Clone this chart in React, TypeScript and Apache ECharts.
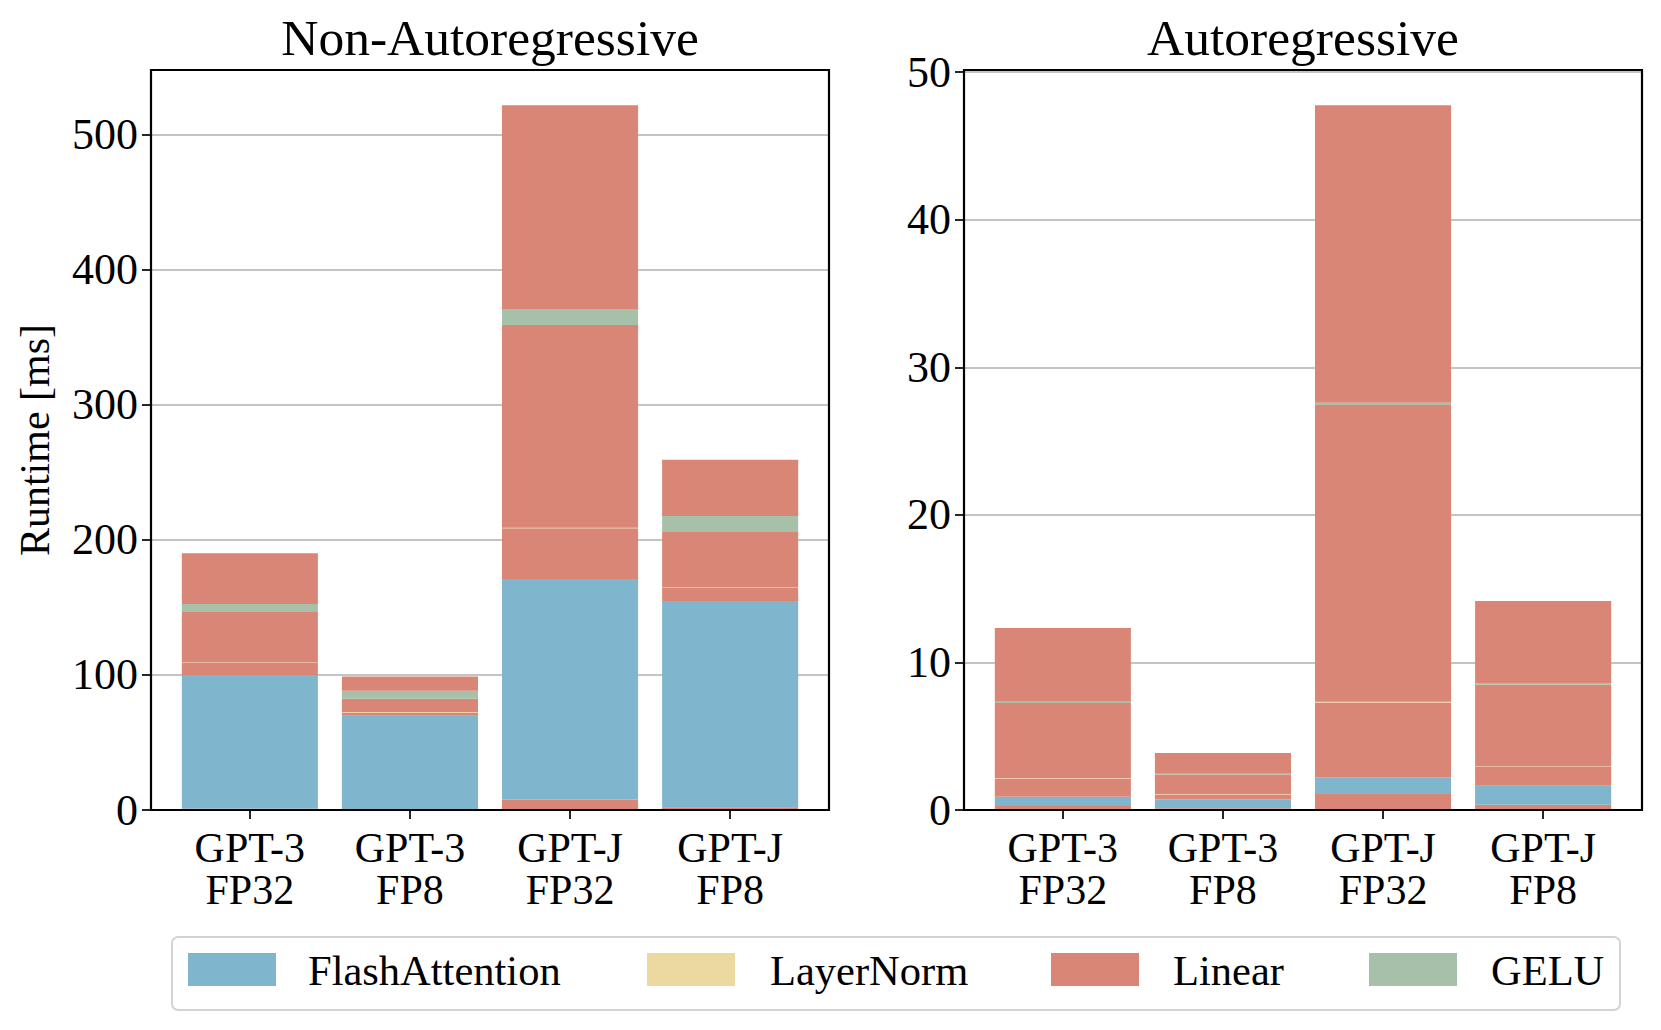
import React, { useEffect, useRef } from "react";
import * as echarts from "echarts";

// ---------------- data ----------------
const categories = ["GPT-3\nFP32", "GPT-3\nFP8", "GPT-J\nFP32", "GPT-J\nFP8"];
const panelTitles = ["Non-Autoregressive", "Autoregressive"];
const legendNames = ["FlashAttention", "LayerNorm", "Linear", "GELU"];
const legendColors = ["#7fb5cd", "#ecd9a0", "#d98676", "#a7c0a9"];
// stacking order of kernels inside each bar (bottom -> top)
const segmentKinds = ["Linear", "FlashAttention", "Linear", "LayerNorm", "Linear", "GELU", "Linear"];

// Non-autoregressive runtimes [ms], one value per category
const nonAR_linearIn = [1.0, 0.5, 7.8, 2.0];
const nonAR_flash = [98.4, 69.3, 163.1, 152.7];
const nonAR_linearOut = [9.3, 2.3, 37.5, 9.5];
const nonAR_layerNorm = [0.5, 0.4, 0.5, 0.4];
const nonAR_linearFc1 = [37.4, 9.9, 150.0, 41.7];
const nonAR_gelu = [5.9, 5.9, 11.9, 11.2];
const nonAR_linearFc2 = [37.5, 10.4, 150.7, 41.6];

// Autoregressive runtimes [ms]
const ar_linearIn = [0.27, 0.12, 1.08, 0.35];
const ar_flash = [0.63, 0.6, 1.14, 1.3];
const ar_linearOut = [1.22, 0.32, 5.07, 1.29];
const ar_layerNorm = [0.03, 0.03, 0.04, 0.03];
const ar_linearFc1 = [5.1, 1.33, 20.11, 5.51];
const ar_gelu = [0.09, 0.06, 0.15, 0.12];
const ar_linearFc2 = [4.99, 1.4, 20.17, 5.57];

const yTickMaxes = [500, 50];
const yTickIntervals = [100, 10];

const nonARSegments = [nonAR_linearIn, nonAR_flash, nonAR_linearOut, nonAR_layerNorm, nonAR_linearFc1, nonAR_gelu, nonAR_linearFc2];
const arSegments = [ar_linearIn, ar_flash, ar_linearOut, ar_layerNorm, ar_linearFc1, ar_gelu, ar_linearFc2];

// ---------------- layout ----------------
const FONT = "'Liberation Serif', 'Times New Roman', serif";
const PANEL_LEFT = [151, 964];
const PANEL_TOP = 70;
const PANEL_W = 678;
const PANEL_H = 740;
const BAR_FRAC = 0.85;

const colorOf = (kind: string) => legendColors[legendNames.indexOf(kind)];

export default function App() {
  const ref = useRef<HTMLDivElement>(null);

  useEffect(() => {
    if (!ref.current) return;
    const chart = echarts.init(ref.current, undefined, { renderer: "svg" });

    const n = categories.length;
    const span = n - 1 + BAR_FRAC;
    const totalUnits = span * 1.1;
    const d = PANEL_W / totalUnits;
    const inset = (BAR_FRAC / 2 + span * 0.05 - 0.5) * d;
    const barW = BAR_FRAC * d;

    const panels = [nonARSegments, arSegments];
    const grids: any[] = [];
    const xAxes: any[] = [];
    const yAxes: any[] = [];
    const series: any[] = [];

    panels.forEach((segs, p) => {
      const totals = categories.map((_, i) => segs.reduce((s, arr) => s + arr[i], 0));
      const yMax = Math.max(...totals) * 1.05;
      const tickMax = yTickMaxes[p];
      const tickH = (PANEL_H * tickMax) / yMax;
      // tick / gridline grid
      grids.push({ left: PANEL_LEFT[p], top: PANEL_TOP + PANEL_H - tickH, width: PANEL_W, height: tickH, containLabel: false });
      xAxes.push({ gridIndex: 2 * p, type: "value", show: false, min: 0, max: 1 });
      yAxes.push({
        gridIndex: 2 * p,
        type: "value",
        min: 0,
        max: tickMax,
        interval: yTickIntervals[p],
        axisLine: { show: false },
        axisTick: { show: true, inside: false, length: 9, lineStyle: { color: "#000", width: 1.7 } },
        axisLabel: { fontSize: 44, fontFamily: FONT, color: "#000", margin: 13 },
        splitLine: { show: true, lineStyle: { color: "#b0b0b0", width: 1.7 } },
      });
      // data grid
      grids.push({ left: PANEL_LEFT[p] + inset, top: PANEL_TOP, width: n * d, height: PANEL_H, containLabel: false });
      xAxes.push({
        gridIndex: 2 * p + 1,
        type: "category",
        data: categories,
        axisLine: { show: false },
        axisTick: { show: true, alignWithLabel: true, length: 9, lineStyle: { color: "#000", width: 1.7 } },
        axisLabel: { fontSize: 42, fontFamily: FONT, color: "#000", lineHeight: 42, margin: 17, interval: 0 },
        splitLine: { show: false },
      });
      yAxes.push({
        gridIndex: 2 * p + 1,
        type: "value",
        min: 0,
        max: yMax,
        axisLine: { show: false },
        axisTick: { show: false },
        axisLabel: { show: false },
        splitLine: { show: false },
        name: p === 0 ? "Runtime [ms]" : "",
        nameLocation: "middle",
        nameGap: 114,
        nameTextStyle: { fontSize: 42, fontFamily: FONT, color: "#000" },
      });
      segs.forEach((arr, k) => {
        series.push({
          type: "bar",
          name: segmentKinds[k],
          stack: "panel" + p,
          xAxisIndex: 2 * p + 1,
          yAxisIndex: 2 * p + 1,
          barWidth: barW,
          data: arr,
          itemStyle: { color: colorOf(segmentKinds[k]) },
          emphasis: { disabled: true },
          z: 3,
        });
      });
    });

    const graphic: any[] = [];
    panelTitles.forEach((t, p) => {
      graphic.push({
        type: "text",
        x: PANEL_LEFT[p] + PANEL_W / 2,
        y: 37,
        z: 100,
        style: {
          text: t,
          fontSize: 51.5,
          fontFamily: FONT,
          fill: "#000",
          align: "center",
          verticalAlign: "middle",
          textAlign: "center",
          textVerticalAlign: "middle",
        },
      });
      graphic.push({
        type: "rect",
        z: 100,
        shape: { x: PANEL_LEFT[p], y: PANEL_TOP, width: PANEL_W, height: PANEL_H },
        style: { fill: "none", stroke: "#000", lineWidth: 2.2 },
        silent: true,
      });
    });

    // legend box
    const legendHandleX = [188, 647, 1051, 1369];
    const legendTextX = [308, 770, 1173, 1491];
    graphic.push({
      type: "rect",
      z: 90,
      shape: { x: 172, y: 937, width: 1448, height: 73, r: 6 },
      style: { fill: "#fff", stroke: "#d3d3d3", lineWidth: 2 },
    });
    legendNames.forEach((name, i) => {
      graphic.push({
        type: "rect",
        z: 100,
        shape: { x: legendHandleX[i], y: 953, width: 88, height: 33 },
        style: { fill: legendColors[i] },
      });
      graphic.push({
        type: "text",
        z: 100,
        x: legendTextX[i],
        y: 970,
        style: {
          text: name,
          fontSize: 42.5,
          fontFamily: FONT,
          fill: "#000",
          align: "left",
          verticalAlign: "middle",
          textAlign: "left",
          textVerticalAlign: "middle",
        },
      });
    });

    chart.setOption({
      animation: false,
      backgroundColor: "#fff",
      grid: grids,
      xAxis: xAxes,
      yAxis: yAxes,
      series,
      graphic,
    });

    return () => chart.dispose();
  }, []);

  return (
    <div
      ref={ref}
      style={{ position: "fixed", left: 0, top: 0, width: 1661, height: 1030, background: "#fff" }}
    />
  );
}
